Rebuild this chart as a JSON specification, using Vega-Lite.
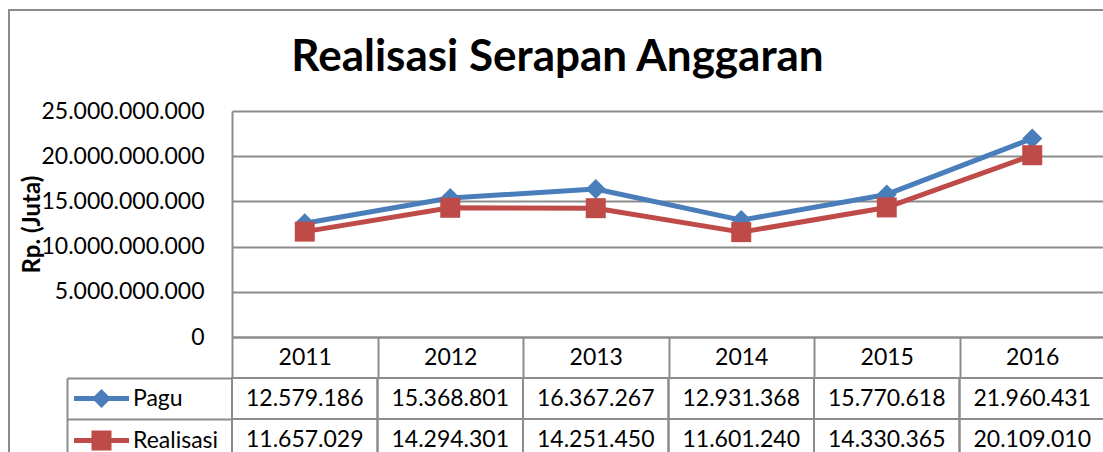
{
  "$schema": "https://vega.github.io/schema/vega-lite/v6.json",
  "width": 1097,
  "height": 460,
  "autosize": "none",
  "padding": {"left": 9, "top": 10, "right": 0, "bottom": 0},
  "background": "white",
  "title": {"text": "Realisasi Serapan Anggaran", "font": "Lato", "fontSize": 44, "fontWeight": "bold", "color": "black", "anchor": "middle", "frame": "group", "baseline": "alphabetic", "offset": -105},
  "config": {
    "view": {"stroke": "#8c8c8c", "strokeWidth": 2},
    "font": "Lato",
    "axis": {"labelFont": "Lato", "labelColor": "black", "labelFontSize": 23},
    "locale": {"number": {"decimal": ",", "thousands": ".", "grouping": [3], "currency": ["Rp", ""]}}
  },
  "datasets": {
    "d": [
      {"tahun": "2011", "seri": "Pagu", "nilai": 12579186},
      {"tahun": "2012", "seri": "Pagu", "nilai": 15368801},
      {"tahun": "2013", "seri": "Pagu", "nilai": 16367267},
      {"tahun": "2014", "seri": "Pagu", "nilai": 12931368},
      {"tahun": "2015", "seri": "Pagu", "nilai": 15770618},
      {"tahun": "2016", "seri": "Pagu", "nilai": 21960431},
      {"tahun": "2011", "seri": "Realisasi", "nilai": 11657029},
      {"tahun": "2012", "seri": "Realisasi", "nilai": 14294301},
      {"tahun": "2013", "seri": "Realisasi", "nilai": 14251450},
      {"tahun": "2014", "seri": "Realisasi", "nilai": 11601240},
      {"tahun": "2015", "seri": "Realisasi", "nilai": 14330365},
      {"tahun": "2016", "seri": "Realisasi", "nilai": 20109010}
    ]
  },
  "data": {"name": "d"},
  "resolve": {"scale": {"y": "independent"}},
  "layer": [
    {
      "encoding": {
        "x": {"field": "tahun", "type": "ordinal", "scale": {"type": "band", "domain": ["2011", "2012", "2013", "2014", "2015", "2016"], "range": [223, 1096], "paddingInner": 0, "paddingOuter": 0},
          "axis": {"orient": "bottom", "offset": -133, "title": null, "tickBand": "extent", "tickSize": 41, "tickColor": "#8c8c8c", "tickWidth": 2, "domainColor": "#8c8c8c", "domainWidth": 2, "labelAngle": 0, "labelPadding": -21, "labelBaseline": "middle", "grid": false}},
        "y": {"field": "nilai", "type": "quantitative", "scale": {"domain": [0, 25000000], "range": [327, 101], "nice": false, "zero": false},
          "axis": {"orient": "left", "offset": -223, "values": [0, 5000000, 10000000, 15000000, 20000000, 25000000], "labelExpr": "format(datum.value * 1000, ',d')", "ticks": false, "tickSize": 0, "labelPadding": 28, "labelBaseline": "middle", "domain": true, "domainColor": "#8c8c8c", "domainWidth": 2, "grid": true, "gridColor": "#8c8c8c", "gridWidth": 2,
            "title": "Rp. (Juta)", "titleFont": "Lato", "titleFontSize": 24, "titleFontWeight": "bold", "titleColor": "black", "titleAngle": 270, "titleX": -193, "titleY": 214, "titleAlign": "center", "titleBaseline": "alphabetic"}},
        "color": {"field": "seri", "type": "nominal", "scale": {"domain": ["Pagu", "Realisasi"], "range": ["#4a7ebb", "#be4b48"]},
          "legend": {"orient": "none", "legendX": 81, "legendY": 377, "title": null, "direction": "vertical", "padding": 0, "symbolSize": 400, "symbolStrokeWidth": 0, "symbolOffset": 0, "labelOffset": 20, "rowPadding": 18, "labelFont": "Lato", "labelFontSize": 23, "labelColor": "black",
            "encode": {"symbols": {"update": {
              "shape": {"signal": "datum.value === 'Pagu' ? 'M-2.75,-0.25H2.75V0.25H-2.75Z M0,-0.95L0.95,0L0,0.95L-0.95,0Z' : 'M-2.75,-0.25H2.75V0.25H-2.75Z M-1,-1H1V1H-1Z'"},
              "fill": {"signal": "scale('color', datum.value)"},
              "fillOpacity": {"value": 1},
              "opacity": {"value": 1},
              "strokeWidth": {"value": 0}
            }}}}}
      },
      "layer": [
        {"transform": [{"filter": "datum.seri === 'Pagu'"}], "mark": {"type": "line", "strokeWidth": 5, "strokeJoin": "round"}},
        {"transform": [{"filter": "datum.seri === 'Pagu'"}], "mark": {"type": "point", "shape": "diamond", "filled": true, "size": 400, "opacity": 1}},
        {"transform": [{"filter": "datum.seri === 'Realisasi'"}], "mark": {"type": "line", "strokeWidth": 5, "strokeJoin": "round"}},
        {"transform": [{"filter": "datum.seri === 'Realisasi'"}], "mark": {"type": "point", "shape": "square", "filled": true, "size": 400, "opacity": 1}}
      ]
    },
    {
      "mark": {"type": "rect", "fill": "white", "fillOpacity": 0, "stroke": "#8c8c8c", "strokeWidth": 2},
      "encoding": {
        "x": {"field": "tahun", "type": "ordinal", "scale": {"type": "band", "domain": ["2011", "2012", "2013", "2014", "2015", "2016"], "range": [223, 1096], "paddingInner": 0, "paddingOuter": 0},
          "axis": {"orient": "bottom", "offset": -133, "title": null, "tickBand": "extent", "tickSize": 41, "tickColor": "#8c8c8c", "tickWidth": 2, "domainColor": "#8c8c8c", "domainWidth": 2, "labelAngle": 0, "labelPadding": -21, "labelBaseline": "middle", "grid": false}},
        "y": {"field": "seri", "type": "nominal", "scale": {"type": "band", "domain": ["Pagu", "Realisasi"], "range": [368, 450], "paddingInner": 0, "paddingOuter": 0},
          "axis": {"orient": "left", "offset": -223, "title": null, "labels": false, "domain": false, "grid": false, "tickBand": "extent", "tickSize": 165, "tickColor": "#8c8c8c", "tickWidth": 2}}
      }
    },
    {
      "mark": {"type": "text", "font": "Lato", "fontSize": 23, "color": "black", "baseline": "middle", "align": "center"},
      "encoding": {
        "x": {"field": "tahun", "type": "ordinal", "scale": {"type": "band", "domain": ["2011", "2012", "2013", "2014", "2015", "2016"], "range": [223, 1096], "paddingInner": 0, "paddingOuter": 0},
          "axis": {"orient": "bottom", "offset": -133, "title": null, "tickBand": "extent", "tickSize": 41, "tickColor": "#8c8c8c", "tickWidth": 2, "domainColor": "#8c8c8c", "domainWidth": 2, "labelAngle": 0, "labelPadding": -21, "labelBaseline": "middle", "grid": false}},
        "y": {"field": "seri", "type": "nominal", "scale": {"type": "band", "domain": ["Pagu", "Realisasi"], "range": [368, 450], "paddingInner": 0, "paddingOuter": 0},
          "axis": {"orient": "left", "offset": -58, "title": null, "labels": false, "ticks": false, "grid": false, "domain": true, "domainColor": "#8c8c8c", "domainWidth": 2}},
        "text": {"field": "nilai", "type": "quantitative", "format": ",d"}
      }
    }
  ]
}
